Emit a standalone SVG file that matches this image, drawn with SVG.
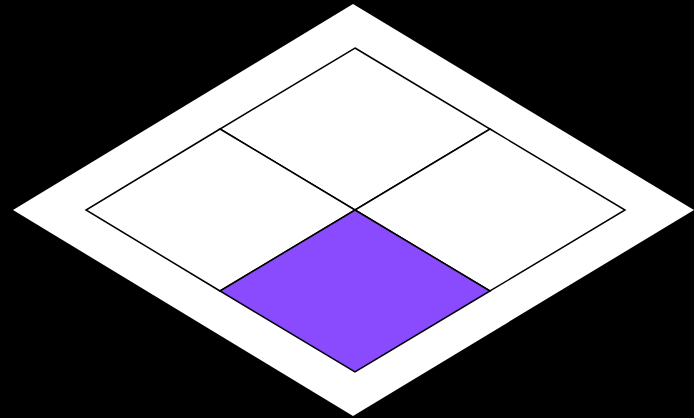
<svg xmlns="http://www.w3.org/2000/svg" width="694" height="418" viewBox="0 0 694 418">
<style>
.cell{fill:#ffffff;stroke:#000000;stroke-width:1.5;stroke-linejoin:miter}
.hl{fill:#8a4bff}
</style>
<rect x="0" y="0" width="694" height="418" fill="#000000"/>
<g id="board">
<polygon points="353,4 694,210 353,416 13,210" fill="#ffffff"/>
</g>
<g id="cell-top"><polygon class="cell" points="355,48 490,129 355,210 220,129"/></g>
<g id="cell-left"><polygon class="cell" points="220,129 355,210 220,291 86,210"/></g>
<g id="cell-right"><polygon class="cell" points="490,129 625,210 490,291 355,210"/></g>
<g id="cell-bottom"><polygon class="cell hl" points="355,210 490,291 355,372 220,291"/></g>
</svg>
